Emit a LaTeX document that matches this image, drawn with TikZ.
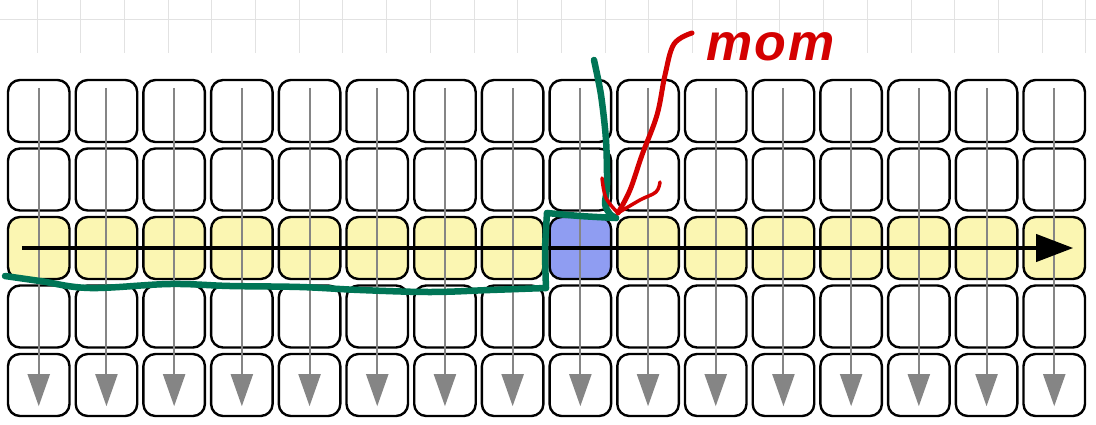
\documentclass[tikz,border=0pt]{standalone}
\usepackage{fontspec}
\setmainfont{Liberation Sans}
\usetikzlibrary{arrows.meta}
\definecolor{gridc}{HTML}{E2E2E2}
\definecolor{cellyellow}{HTML}{FBF6B2}
\definecolor{cellblue}{HTML}{8F9DF2}
\definecolor{arrowgray}{HTML}{858585}
\definecolor{penGreen}{HTML}{007556}
\definecolor{penRed}{HTML}{D40000}
\tikzset{
  cell/.style={draw=black, line width=2.4pt, rounded corners=12pt, minimum width=61.5pt, minimum height=62pt, inner sep=0pt, fill=white},
  hot/.style={fill=cellyellow},
  cur/.style={fill=cellblue},
  varrow/.style={draw=arrowgray, line width=2pt, -{Triangle[length=32pt,width=22pt]}},
  harrow/.style={draw=black, line width=4pt, -{Triangle[length=37pt,width=27pt]}},
  greenpen/.style={draw=penGreen, line width=6.5pt, line cap=round, line join=round},
  redpen/.style={draw=penRed, line width=5pt, line cap=round, line join=round},
}
\begin{document}
\begin{tikzpicture}[x=1pt,y=-1pt]
\useasboundingbox (0,0) rectangle (1096,424);
\fill[white] (0,0) rectangle (1096,424);
% background grid strip
\foreach \i in {0,...,24} {
  \draw[gridc, line width=1pt] ({37+43.7*\i},0) -- ({37+43.7*\i},53);
}
\draw[gridc, line width=1pt] (0,19) -- (1096,19);
% cells
\foreach \r in {1,...,5} {
  \foreach \c in {1,...,16} {
    \pgfmathsetmacro{\cx}{8+30.75+67.7*(\c-1)}
    \pgfmathsetmacro{\cy}{80+31+68.5*(\r-1)}
    \ifnum\r=3
      \ifnum\c=9
        \node[cell,cur] (b-\r-\c) at (\cx,\cy) {};
      \else
        \node[cell,hot] (b-\r-\c) at (\cx,\cy) {};
      \fi
    \else
      \node[cell] (b-\r-\c) at (\cx,\cy) {};
    \fi
  }
}
% vertical arrows
\foreach \c in {1,...,16} {
  \draw[varrow] ([yshift=-9pt]b-1-\c.north) -- ([yshift=11pt]b-5-\c.south);
}
% horizontal arrow
\draw[harrow] ([xshift=15pt]b-3-1.west) -- ([xshift=-13pt]b-3-16.east);
% green hand-drawn line
\draw[greenpen] plot[smooth, tension=0.5] coordinates {(594,60) (601,95) (606,140) (607,185) (605,204) (610,214) (616,218)};
\draw[greenpen] plot[smooth, tension=0.4] coordinates {(616,218) (580,216) (547,213)};
\draw[greenpen] plot[smooth, tension=0.4] coordinates {(547,213) (545,250) (546,288)};
\draw[greenpen] plot[smooth, tension=0.6] coordinates {(546,288) (490,290) (430,292) (360,290) (300,287) (230,286) (170,284) (90,288) (40,281) (5,276)};
% red hand-drawn arrow
\coordinate (tip) at (618,213);
\draw[redpen] plot[smooth, tension=0.6] coordinates {(692,33) (674,44) (665,75) (657,115) (642,155) (630,190) (tip)};
\draw[redpen, line width=3.5pt] plot[smooth, tension=0.6] coordinates {(tip) (606,198) (602,178)};
\draw[redpen, line width=3.5pt] plot[smooth, tension=0.6] coordinates {(tip) (640,200) (656,192) (660,182)};
% label
\node[penRed, anchor=base west, inner sep=0pt, font=\fontsize{52}{52}\selectfont\bfseries\itshape] (mom) at (706,60) {m\kern2pt o\kern2pt m};
\end{tikzpicture}
\end{document}
